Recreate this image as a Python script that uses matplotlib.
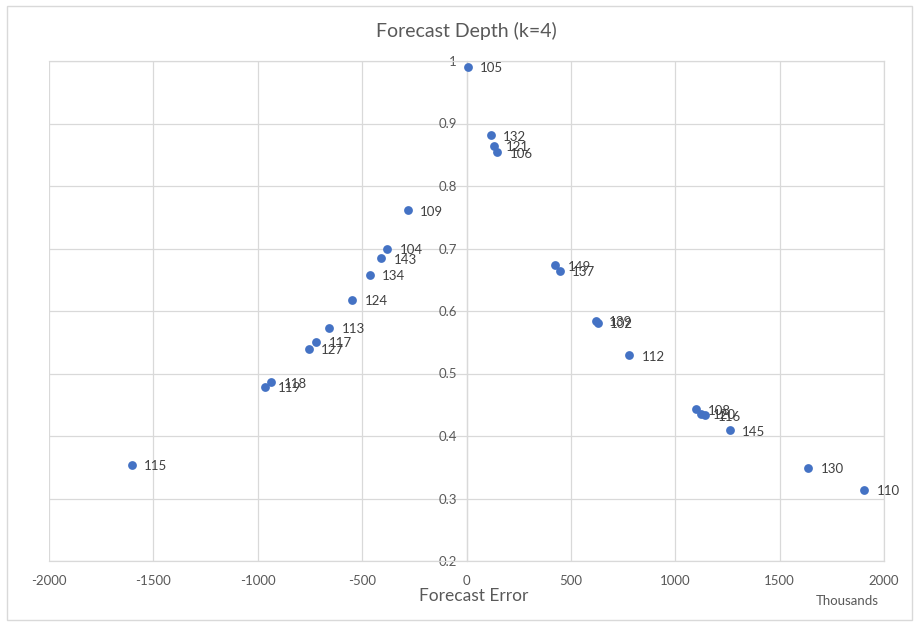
import matplotlib
matplotlib.use("Agg")
import matplotlib.pyplot as plt
from matplotlib.patches import Rectangle

labels = ["105", "132", "121", "106", "109", "104", "143", "134", "124", "113",
          "117", "127", "118", "119", "115", "149", "137", "139", "102", "112",
          "108", "120", "116", "145", "130", "110"]
forecast_error = [5, 115, 131, 147, -282, -381, -410, -464, -549, -657,
                  -721, -756, -937, -963, -1604, 424, 446, 622, 628, 778,
                  1098, 1122, 1143, 1261, 1637, 1906]
forecast_depth = [0.991, 0.881, 0.864, 0.854, 0.761, 0.700, 0.684, 0.658, 0.618, 0.573,
                  0.551, 0.540, 0.486, 0.479, 0.354, 0.673, 0.664, 0.584, 0.581, 0.529,
                  0.443, 0.436, 0.433, 0.409, 0.349, 0.314]
x_ticks = [-2000, -1500, -1000, -500, 0, 500, 1000, 1500, 2000]
y_ticks = [0.2, 0.3, 0.4, 0.5, 0.6, 0.7, 0.8, 0.9, 1.0]
y_tick_labels = ["0.2", "0.3", "0.4", "0.5", "0.6", "0.7", "0.8", "0.9", "1"]

plt.rcParams['font.family'] = ['Lato', 'DejaVu Sans']
plt.rcParams['axes.unicode_minus'] = False

fig = plt.figure(figsize=(9.15, 6.27), dpi=100)
fig.patches.append(Rectangle((7/915, 1-620/627), (912-7)/915, (620-6)/627,
                             transform=fig.transFigure, fill=False,
                             edgecolor='#d9d9d9', linewidth=1.0))
ax = fig.add_axes([49/915, 1-561/627, (884-49)/915, (561-61)/627])

ax.set_xlim(-2000, 2000)
ax.set_ylim(0.2, 1.0)
ax.set_xticks(x_ticks)
ax.set_xticklabels([str(v) for v in x_ticks])
ax.set_yticks(y_ticks)
ax.set_yticklabels(y_tick_labels)
ax.grid(True, color='#d9d9d9', linewidth=0.9)
ax.set_axisbelow(True)
for s in ax.spines.values():
    s.set_color('#d9d9d9')
    s.set_linewidth(0.9)
ax.spines['left'].set_position(('data', 0))
ax.tick_params(axis='both', length=0, labelsize=9.5, colors='#595959')
ax.tick_params(axis='x', pad=10)
ax.tick_params(axis='y', pad=7)

ax.scatter(forecast_error, forecast_depth, s=40, color='#4472C4', zorder=3, linewidths=0)
for lab, xv, yv in zip(labels, forecast_error, forecast_depth):
    ax.annotate(lab, (xv, yv), xytext=(9, -1), textcoords='offset points',
                va='center', ha='left', fontsize=9.5, color='#404040')

fig.text(466/915, 1-31/627, "Forecast Depth (k=4)", ha='center', va='center',
         fontsize=14, color='#595959')
fig.text(474/915, 1-596/627, "Forecast Error", ha='center', va='center',
         fontsize=12.5, color='#595959')
fig.text(847/915, 1-601/627, "Thousands", ha='center', va='center',
         fontsize=9.5, color='#595959')

fig.savefig("out.png", dpi=100)
